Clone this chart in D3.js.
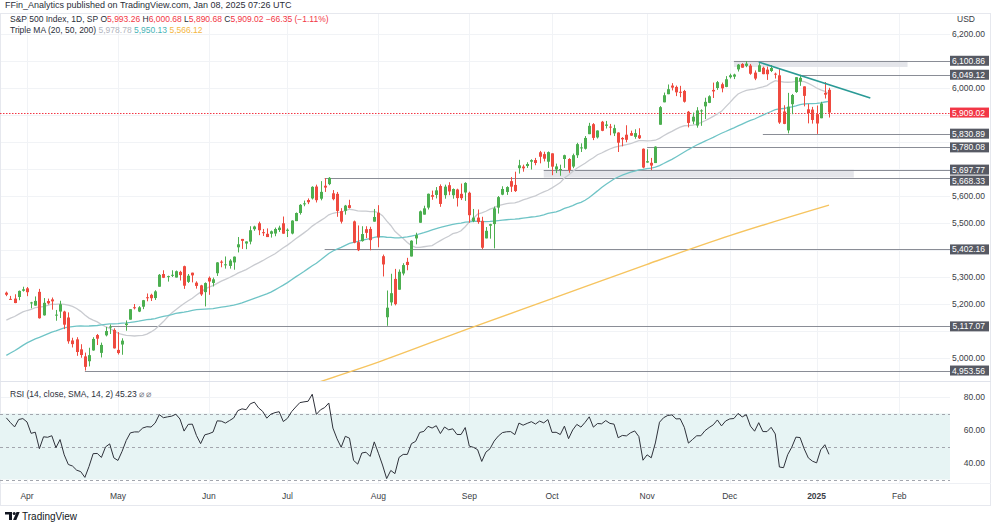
<!DOCTYPE html>
<html><head><meta charset="utf-8">
<script src="https://cdn.jsdelivr.net/npm/d3@7"></script>
<style>
body{margin:0;background:#fff;}
svg{display:block;font-family:"Liberation Sans",Arial,sans-serif;}
</style></head><body>
<svg id="chart" width="1002" height="527"></svg>
<script>
// ---------- DATA ----------
// closes before the visible window (used only to warm up MA / RSI)
const warmupCloses = [4742.83,4704.81,4688.68,4697.24,4763.54,4756.50,4783.45,4780.24,4783.83,4765.98,4739.21,4780.94,4839.81,4850.43,4864.60,4868.55,4894.16,4890.97,4927.93,4924.97,4845.65,
4906.19,4958.61,4942.81,4954.23,4995.06,4997.91,5026.61,5021.84,4953.17,5000.62,5029.73,5005.57,4975.51,4981.80,5087.03,5088.80,5069.53,5078.18,5069.76,5096.27,
5137.08,5130.95,5078.65,5104.76,5157.36,5123.69,5117.94,5175.27,5165.31,5150.48,5117.09,5149.42,5178.51,5224.62,5241.53];

const dates = [
"2024-03-22","2024-03-25","2024-03-26","2024-03-27","2024-03-28",
"2024-04-01","2024-04-02","2024-04-03","2024-04-04","2024-04-05","2024-04-08","2024-04-09","2024-04-10","2024-04-11","2024-04-12","2024-04-15","2024-04-16","2024-04-17","2024-04-18","2024-04-19","2024-04-22","2024-04-23","2024-04-24","2024-04-25","2024-04-26","2024-04-29","2024-04-30",
"2024-05-01","2024-05-02","2024-05-03","2024-05-06","2024-05-07","2024-05-08","2024-05-09","2024-05-10","2024-05-13","2024-05-14","2024-05-15","2024-05-16","2024-05-17","2024-05-20","2024-05-21","2024-05-22","2024-05-23","2024-05-24","2024-05-28","2024-05-29","2024-05-30","2024-05-31",
"2024-06-03","2024-06-04","2024-06-05","2024-06-06","2024-06-07","2024-06-10","2024-06-11","2024-06-12","2024-06-13","2024-06-14","2024-06-17","2024-06-18","2024-06-20","2024-06-21","2024-06-24","2024-06-25","2024-06-26","2024-06-27","2024-06-28",
"2024-07-01","2024-07-02","2024-07-03","2024-07-05","2024-07-08","2024-07-09","2024-07-10","2024-07-11","2024-07-12","2024-07-15","2024-07-16","2024-07-17","2024-07-18","2024-07-19","2024-07-22","2024-07-23","2024-07-24","2024-07-25","2024-07-26","2024-07-29","2024-07-30","2024-07-31",
"2024-08-01","2024-08-02","2024-08-05","2024-08-06","2024-08-07","2024-08-08","2024-08-09","2024-08-12","2024-08-13","2024-08-14","2024-08-15","2024-08-16","2024-08-19","2024-08-20","2024-08-21","2024-08-22","2024-08-23","2024-08-26","2024-08-27","2024-08-28","2024-08-29","2024-08-30",
"2024-09-03","2024-09-04","2024-09-05","2024-09-06","2024-09-09","2024-09-10","2024-09-11","2024-09-12","2024-09-13","2024-09-16","2024-09-17","2024-09-18","2024-09-19","2024-09-20","2024-09-23","2024-09-24","2024-09-25","2024-09-26","2024-09-27","2024-09-30",
"2024-10-01","2024-10-02","2024-10-03","2024-10-04","2024-10-07","2024-10-08","2024-10-09","2024-10-10","2024-10-11","2024-10-14","2024-10-15","2024-10-16","2024-10-17","2024-10-18","2024-10-21","2024-10-22","2024-10-23","2024-10-24","2024-10-25","2024-10-28","2024-10-29","2024-10-30","2024-10-31",
"2024-11-01","2024-11-04","2024-11-05","2024-11-06","2024-11-07","2024-11-08","2024-11-11","2024-11-12","2024-11-13","2024-11-14","2024-11-15","2024-11-18","2024-11-19","2024-11-20","2024-11-21","2024-11-22","2024-11-25","2024-11-26","2024-11-27","2024-11-29",
"2024-12-02","2024-12-03","2024-12-04","2024-12-05","2024-12-06","2024-12-09","2024-12-10","2024-12-11","2024-12-12","2024-12-13","2024-12-16","2024-12-17","2024-12-18","2024-12-19","2024-12-20","2024-12-23","2024-12-24","2024-12-26","2024-12-27","2024-12-30","2024-12-31",
"2025-01-02","2025-01-03","2025-01-06","2025-01-07"];

const opens = [5242,5219,5220,5226,5249,
5258,5204,5194,5245,5158,5211,5217,5160,5172,5172,5150,5065,5069,5032,5006,4988,5028,5085,5019,5084,5114,5104,
5030,5050,5122,5142,5188,5172,5190,5225,5234,5222,5264,5311,5303,5306,5298,5319,5340,5282,5316,5279,5269,5244,
5297,5278,5314,5357,5344,5341,5354,5410,5441,5424,5431,5477,5499,5466,5460,5460,5461,5474,5499,
5471,5461,5507,5537,5572,5585,5591,5635,5590,5638,5644,5610,5608,5544,5545,5566,5506,5429,5433,5477,5478,5505,
5538,5377,5151,5206,5293,5253,5313,5356,5376,5443,5501,5531,5557,5603,5604,5637,5603,5640,5603,5624,5608,5613,
5612,5507,5520,5508,5443,5490,5496,5557,5605,5615,5655,5641,5703,5709,5711,5727,5733,5762,5755,5727,
5758,5698,5698,5737,5737,5709,5751,5778,5775,5829,5866,5817,5875,5860,5857,5832,5835,5815,5827,5833,5819,5825,5775,
5724,5723,5722,5864,5947,5977,6009,6004,5986,5989,5912,5876,5861,5917,5932,5945,5993,6000,6014,6004,
6040,6042,6069,6089,6082,6083,6057,6060,6075,6068,6063,6053,6047,5913,5843,5940,5985,6024,6006,5921,5920,
5903,5888,5982,5993.26];

const highs = [5246,5230,5236,5250,5264,
5263,5208,5228,5256,5222,5220,5224,5178,5212,5175,5169,5075,5077,5051,5020,5038,5077,5089,5057,5115,5124,5110,
5096,5073,5139,5181,5200,5192,5215,5239,5238,5251,5311,5325,5305,5325,5324,5323,5342,5311,5316,5284,5271,5280,
5302,5298,5355,5362,5376,5366,5376,5448,5441,5432,5488,5490,5505,5478,5480,5472,5483,5490,5524,
5480,5510,5539,5570,5583,5591,5636,5642,5655,5666,5670,5622,5615,5555,5567,5586,5509,5491,5488,5488,5486,5552,
5566,5383,5250,5312,5330,5328,5351,5371,5436,5464,5546,5564,5609,5620,5633,5643,5642,5651,5628,5627,5646,5651,
5616,5552,5550,5523,5485,5497,5561,5600,5636,5636,5670,5690,5734,5716,5725,5736,5741,5767,5764,5765,
5758,5720,5716,5753,5740,5757,5797,5795,5822,5871,5870,5843,5878,5878,5867,5864,5836,5818,5862,5842,5847,5851,5776,
5773,5741,5784,5933,5983,6013,6018,6009,6008,5993,5915,5909,5929,5921,5964,5973,6020,6026,6020,6044,
6053,6053,6089,6092,6100,6089,6065,6092,6079,6079,6085,6057,6070,5936,5982,5978,6040,6049,6006,5941,5930,
5935,5949,6022,6000.68];

const lows = [5229,5216,5203,5214,5246,
5229,5184,5194,5146,5157,5198,5179,5138,5148,5107,5053,5039,5008,5001,4953.56,4969,5027,5048,5002,5080,5089,5035,
5013,5012,5101,5142,5180,5170,5181,5210,5211,5215,5264,5296,5283,5300,5298,5287,5256,5278,5280,5257,5230,5191,
5234,5265,5304,5336,5331,5331,5327,5391,5404,5403,5421,5471,5455,5452,5448,5446,5451,5467,5460,
5448,5458,5507,5531,5562,5570,5587,5576,5584,5615,5640,5584,5523,5498,5531,5554,5425,5396,5431,5444,5399,5505,
5410,5302,5119.26,5194,5195,5253,5306,5325,5376,5421,5501,5531,5550,5586,5591,5560,5590,5603,5590,5561,5585,5582,
5501,5503,5497,5403,5443,5442,5406,5535,5603,5604,5615,5615,5683,5690,5704,5698,5714,5721,5728,5704,
5677,5685,5675,5704,5686,5703,5741,5763,5772,5829,5807,5813,5840,5850,5825,5822,5763,5784,5799,5823,5812,5811,5703,
5723,5696,5722,5864,5947,5977,5991,5970,5966,5946,5854,5866,5853,5860,5885,5944,5963,5993,5984,6003,
6035,6033,6061,6075,6077,6049,6029,6060,6051,6030,6059,6035,5867,5866,5832,5903,5982,6008,5932,5869,5868,
5830,5888,5961,5890.68];

const closes = [5234.18,5218.19,5203.58,5248.49,5254.35,
5243.77,5205.81,5211.49,5147.21,5204.34,5202.39,5209.91,5160.64,5199.06,5123.41,5061.82,5051.41,5022.21,5011.12,4967.23,5010.60,5070.55,5071.63,5048.42,5099.96,5116.17,5035.69,
5018.39,5064.20,5127.79,5180.74,5187.70,5187.67,5214.08,5222.68,5221.42,5246.68,5308.15,5297.10,5303.27,5308.13,5321.41,5307.01,5267.84,5304.72,5306.04,5266.95,5235.48,5277.51,
5283.40,5291.34,5354.03,5352.96,5346.99,5360.79,5375.32,5421.03,5433.74,5431.60,5473.23,5487.03,5473.17,5464.62,5447.87,5469.30,5477.90,5482.87,5460.48,
5475.09,5509.01,5537.02,5567.19,5572.85,5576.98,5633.91,5584.54,5615.35,5631.22,5667.20,5588.27,5544.59,5505.00,5564.41,5555.74,5427.13,5399.22,5459.10,5463.54,5436.44,5522.30,
5446.68,5346.56,5186.33,5240.03,5199.50,5319.31,5344.16,5344.39,5434.43,5455.21,5543.22,5554.25,5608.25,5597.12,5620.85,5570.64,5634.61,5616.84,5625.80,5592.18,5591.96,5648.40,
5528.93,5520.07,5503.41,5408.42,5471.05,5495.52,5554.13,5595.76,5626.02,5633.09,5634.58,5618.26,5713.64,5702.55,5718.57,5732.93,5722.26,5745.37,5738.17,5762.48,
5708.75,5709.54,5699.94,5751.07,5695.94,5751.13,5792.04,5780.05,5815.03,5859.85,5815.26,5842.47,5841.47,5864.67,5853.98,5851.20,5797.42,5809.86,5808.12,5823.52,5832.92,5813.67,5705.45,
5728.80,5712.69,5782.76,5929.04,5973.10,5995.54,6001.35,5983.99,5985.38,5949.17,5870.62,5893.62,5916.98,5917.11,5948.71,5969.34,5987.37,6021.63,5998.74,6032.38,
6047.15,6049.88,6086.49,6075.11,6090.27,6052.85,6034.91,6084.19,6051.25,6051.09,6074.08,6050.61,5872.16,5867.08,5930.85,5974.07,6040.04,6037.59,5970.84,5906.94,5881.63,
5868.55,5942.47,5975.38,5909.02];

// future trading days (right margin of the time scale)
const futureDates = ["2025-01-08","2025-01-10","2025-01-13","2025-01-14","2025-01-15","2025-01-16","2025-01-17","2025-01-21","2025-01-22","2025-01-23","2025-01-24","2025-01-27","2025-01-28","2025-01-29","2025-01-30","2025-01-31","2025-02-03","2025-02-04","2025-02-05","2025-02-06","2025-02-07","2025-02-10","2025-02-11","2025-02-12","2025-02-13","2025-02-14"];

// 200-day MA (its history starts before the visible window)
const ma200Dates  = ["2024-07-01","2024-07-10","2024-08-01","2024-09-03","2024-10-01","2024-11-01","2024-12-02","2025-01-07"];
const ma200Values = [4869,4902,4985,5110,5220,5347,5453,5566.12];

const monthTickDates  = ["2024-04-01","2024-05-01","2024-06-03","2024-07-01","2024-08-01","2024-09-03","2024-10-01","2024-11-01","2024-12-02","2025-01-02","2025-02-03"];
const monthTickLabels = ["Apr","May","Jun","Jul","Aug","Sep","Oct","Nov","Dec","2025","Feb"];
const priceTicks = [5000,5100,5200,5300,5400,5500,5600,5700,5800,5900,6000,6100,6200];
const rsiTicks = [40,60,80];
const rsiBands = [70,50,30];

const levelValues = [6100.86,6049.12,5830.89,5780.08,5697.77,5668.33,5402.16,5117.07,4953.56];
const levelStarts = ["2024-12-03","2024-12-26","2024-12-12","2024-11-01","2024-09-27","2024-07-15","2024-07-15","2024-04-29","2024-04-19"];
const zoneTops    = [6100.86,5697.77];
const zoneBottoms = [6078,5668.33];
const zoneStarts  = ["2024-12-03","2024-09-27"];
const zoneEnds    = ["2025-02-05","2025-01-16"];
const trendDates  = ["2024-12-11","2025-01-23"];
const trendValues = [6096,5963];
const lastPrice = 5909.02;

// ---------- DRAW ----------
const svg = d3.select("#chart");
const plotR = 950;
const priceTop = 14, priceBot = 381, rsiTop = 382, rsiBot = 483;
const allDates = dates.concat(futureDates);
const idx = d => allDates.indexOf(d);
const x = d3.scaleLinear().domain([5, 199]).range([27, 829]);
const y = d3.scaleLinear().domain([5000, 6000]).range([358, 88]);
const yr = d3.scaleLinear().domain([40, 80]).range([463, 397]);
const UP = "#4caf50", DN = "#ef4a3f";

const defs = svg.append("defs");
defs.append("clipPath").attr("id","pclip").append("rect").attr("x",0).attr("y",priceTop).attr("width",plotR).attr("height",priceBot-priceTop);
defs.append("clipPath").attr("id","rclip").append("rect").attr("x",0).attr("y",rsiTop).attr("width",plotR).attr("height",rsiBot-rsiTop);

// grid
const grid = svg.append("g");
grid.selectAll(".hg").data(priceTicks).join("line")
  .attr("x1",0).attr("x2",plotR).attr("y1",d=>Math.round(y(d))+0.5).attr("y2",d=>Math.round(y(d))+0.5)
  .attr("stroke","#f1f3f6");
grid.selectAll(".rg").data(rsiTicks).join("line")
  .attr("x1",0).attr("x2",plotR).attr("y1",d=>Math.round(yr(d))+0.5).attr("y2",d=>Math.round(yr(d))+0.5)
  .attr("stroke","#f1f3f6");
grid.selectAll(".vg").data(monthTickDates).join("line")
  .attr("x1",d=>Math.round(x(idx(d)))+0.5).attr("x2",d=>Math.round(x(idx(d)))+0.5)
  .attr("y1",priceTop).attr("y2",rsiBot).attr("stroke","#f1f3f6");

// frame and separators
svg.append("rect").attr("x",0.5).attr("y",13.5).attr("width",990).attr("height",492).attr("fill","none").attr("stroke","#e6e8ee");
svg.append("line").attr("x1",0).attr("x2",991).attr("y1",381.5).attr("y2",381.5).attr("stroke","#e0e3eb");
svg.append("line").attr("x1",0).attr("x2",991).attr("y1",483.5).attr("y2",483.5).attr("stroke","#eef0f4");

const pg = svg.append("g").attr("clip-path","url(#pclip)");

// zones
pg.selectAll(".zone").data(zoneTops).join("rect")
  .attr("x",(d,i)=>x(idx(zoneStarts[i])))
  .attr("width",(d,i)=>x(idx(zoneEnds[i]))-x(idx(zoneStarts[i])))
  .attr("y",d=>y(d)).attr("height",(d,i)=>y(zoneBottoms[i])-y(d))
  .attr("fill","#dfe1e6").attr("opacity",0.85);

// horizontal levels
pg.selectAll(".lvl").data(levelValues).join("line")
  .attr("x1",(d,i)=>x(idx(levelStarts[i]))).attr("x2",plotR)
  .attr("y1",d=>Math.round(y(d))+0.5).attr("y2",d=>Math.round(y(d))+0.5)
  .attr("stroke","#8a8d96").attr("stroke-width",1);

// last price dotted line
pg.append("line").attr("x1",0).attr("x2",plotR)
  .attr("y1",Math.round(y(lastPrice))+0.5).attr("y2",Math.round(y(lastPrice))+0.5)
  .attr("stroke","#f23645").attr("stroke-dasharray","1.5,1.5").attr("stroke-width",1);

// moving averages
const allCloses = warmupCloses.concat(closes);
const off = warmupCloses.length;
function sma(n){ return closes.map((c,i)=>{ const j=i+off; if(j<n-1) return null; return d3.mean(allCloses.slice(j-n+1,j+1)); }); }
const ma20 = sma(20), ma50 = sma(50);
const lineGen = d3.line().defined(d=>d[1]!=null).x(d=>x(d[0])).y(d=>y(d[1]));
pg.append("path").datum(ma20.map((v,i)=>[i,v])).attr("d",lineGen).attr("fill","none").attr("stroke","#c9cbd0").attr("stroke-width",1.3);
pg.append("path").datum(ma50.map((v,i)=>[i,v])).attr("d",lineGen).attr("fill","none").attr("stroke","#6fc4c6").attr("stroke-width",1.3);
pg.append("path").datum(ma200Dates.map((d,i)=>[idx(d),ma200Values[i]]))
  .attr("d",lineGen.curve(d3.curveMonotoneX)).attr("fill","none").attr("stroke","#f6c45f").attr("stroke-width",1.4);

// candles
const cg = pg.append("g");
const bw = 3;
closes.forEach((c,i)=>{
  const o = opens[i], col = c >= o ? UP : DN, cx = Math.round(x(i))+0.5;
  cg.append("line").attr("x1",cx).attr("x2",cx).attr("y1",y(highs[i])).attr("y2",y(lows[i])).attr("stroke",col).attr("stroke-width",1);
  const top = y(Math.max(o,c)), h = Math.max(1, Math.abs(y(o)-y(c)));
  cg.append("rect").attr("x",cx-bw/2).attr("y",top).attr("width",bw).attr("height",h).attr("fill",col);
});

// trend line
pg.append("line")
  .attr("x1",x(idx(trendDates[0]))).attr("y1",y(trendValues[0]))
  .attr("x2",x(idx(trendDates[1]))).attr("y2",y(trendValues[1]))
  .attr("stroke","#2a9a96").attr("stroke-width",1.6);

// ---------- RSI ----------
function rsiCalc(src,n){
  const out = new Array(src.length).fill(null); let ag=0, al=0;
  for(let i=1;i<src.length;i++){
    const ch = src[i]-src[i-1], g = Math.max(ch,0), l = Math.max(-ch,0);
    if(i<=n){ ag+=g/n; al+=l/n; if(i===n) out[i]=100-100/(1+ag/al); }
    else { ag=(ag*(n-1)+g)/n; al=(al*(n-1)+l)/n; out[i]= al===0?100:100-100/(1+ag/al); }
  }
  return out;
}
const rsiAll = rsiCalc(allCloses,14);
const rsiVals = closes.map((c,i)=>rsiAll[i+off]);
const rg = svg.append("g").attr("clip-path","url(#rclip)");
rg.append("rect").attr("x",0).attr("width",plotR).attr("y",yr(rsiBands[0])).attr("height",yr(rsiBands[2])-yr(rsiBands[0])).attr("fill","#e7f4f4");
rg.selectAll(".band").data(rsiBands).join("line")
  .attr("x1",0).attr("x2",plotR).attr("y1",d=>Math.round(yr(d))+0.5).attr("y2",d=>Math.round(yr(d))+0.5)
  .attr("stroke","#a3a6ae").attr("stroke-dasharray","3,3");
rg.append("path").datum(rsiVals.map((v,i)=>[i,v]))
  .attr("d",d3.line().defined(d=>d[1]!=null).x(d=>x(d[0])).y(d=>yr(d[1])))
  .attr("fill","none").attr("stroke","#2f323b").attr("stroke-width",1);

// ---------- AXES ----------
const axisFont = 8.5;
const pa = svg.append("g");
const boxValues = levelValues.concat([lastPrice]);
// a tick label that would sit under a price box is hidden, as on the price scale
const visibleTicks = priceTicks.filter(t => boxValues.every(b => Math.abs(y(b)-y(t)) > 10));
pa.selectAll(".pt").data(visibleTicks).join("text")
  .attr("x",985).attr("y",d=>y(d)).attr("dy","0.35em").attr("text-anchor","end")
  .attr("font-size",axisFont).attr("fill","#3a3d45")
  .text(d=>d3.format(",.2f")(d));
pa.append("text").attr("x",957).attr("y",22).attr("font-size",axisFont).attr("fill","#3a3d45").text("USD");

// price boxes: stacked so that neighbours do not cover each other
const boxItems = boxValues.map((v,i)=>({v, last: i===boxValues.length-1, pos: y(v)})).sort((a,b)=>a.pos-b.pos);
const boxH = 10, minGap = 11;
for(let i=1;i<boxItems.length;i++){
  if(boxItems[i].pos - boxItems[i-1].pos < minGap) boxItems[i].pos = boxItems[i-1].pos + minGap;
}
const boxes = pa.selectAll(".lb").data(boxItems).join("g").attr("transform",d=>`translate(950,${d.pos})`);
boxes.append("rect").attr("x",0).attr("y",-boxH/2).attr("width",39).attr("height",boxH).attr("fill",d=>d.last?"#f23645":"#575a64");
boxes.append("text").attr("x",35).attr("y",0).attr("dy","0.35em").attr("text-anchor","end").attr("font-size",axisFont).attr("fill","#fff").text(d=>d3.format(",.2f")(d.v));

// rsi axis
pa.selectAll(".rt").data(rsiTicks).join("text")
  .attr("x",985).attr("y",d=>yr(d)).attr("dy","0.35em").attr("text-anchor","end")
  .attr("font-size",axisFont).attr("fill","#3a3d45").text(d=>d3.format(".2f")(d));

// time axis
svg.selectAll(".mt").data(monthTickDates).join("text")
  .attr("x",d=>x(idx(d))).attr("y",499).attr("text-anchor","middle")
  .attr("font-size",axisFont).attr("fill","#3a3d45")
  .attr("font-weight",(d,i)=>monthTickLabels[i]==="2025"?"bold":"normal")
  .text((d,i)=>monthTickLabels[i]);

// ---------- TEXTS ----------
svg.append("text").attr("x",5).attr("y",8).attr("font-size",9).attr("fill","#2a2e39")
  .text("FFin_Analytics published on TradingView.com, Jan 08, 2025 07:26 UTC");

const l1 = svg.append("text").attr("x",10).attr("y",22).attr("font-size",8.5).attr("fill","#2a2e39");
l1.append("tspan").text("S&P 500 Index, 1D, SP  ");
[["O","5,993.26"],["H","6,000.68"],["L","5,890.68"],["C","5,909.02"]].forEach(p=>{
  l1.append("tspan").text(p[0]);
  l1.append("tspan").attr("fill","#f23645").text(p[1]+"  ");
});
l1.append("tspan").attr("fill","#f23645").text("−66.35 (−1.11%)");

const l2 = svg.append("text").attr("x",10).attr("y",33).attr("font-size",8.5).attr("fill","#2a2e39");
l2.append("tspan").text("Triple MA (20, 50, 200)  ");
l2.append("tspan").attr("fill","#b2b5be").text("5,978.78  ");
l2.append("tspan").attr("fill","#47b3b6").text("5,950.13  ");
l2.append("tspan").attr("fill","#f4b63f").text("5,566.12");

const l3 = svg.append("text").attr("x",10).attr("y",397).attr("font-size",8.5).attr("fill","#2a2e39");
l3.append("tspan").text("RSI (14, close, SMA, 14, 2)  45.23  ");
l3.append("tspan").attr("fill","#787b86").text("⌀  ⌀");

// logo
const lg = svg.append("g").attr("fill","#131722");
lg.append("path").attr("d","M5,512 h7 v8 h-3 v-5.5 h-4 z");
lg.append("circle").attr("cx",14.2).attr("cy",513.5).attr("r",1.5);
lg.append("path").attr("d","M16.5,512 h3.2 l-3.4,8 h-3.2 z");
svg.append("text").attr("x",22).attr("y",519.5).attr("font-size",10).attr("fill","#131722").text("TradingView");
</script>
</body></html>
